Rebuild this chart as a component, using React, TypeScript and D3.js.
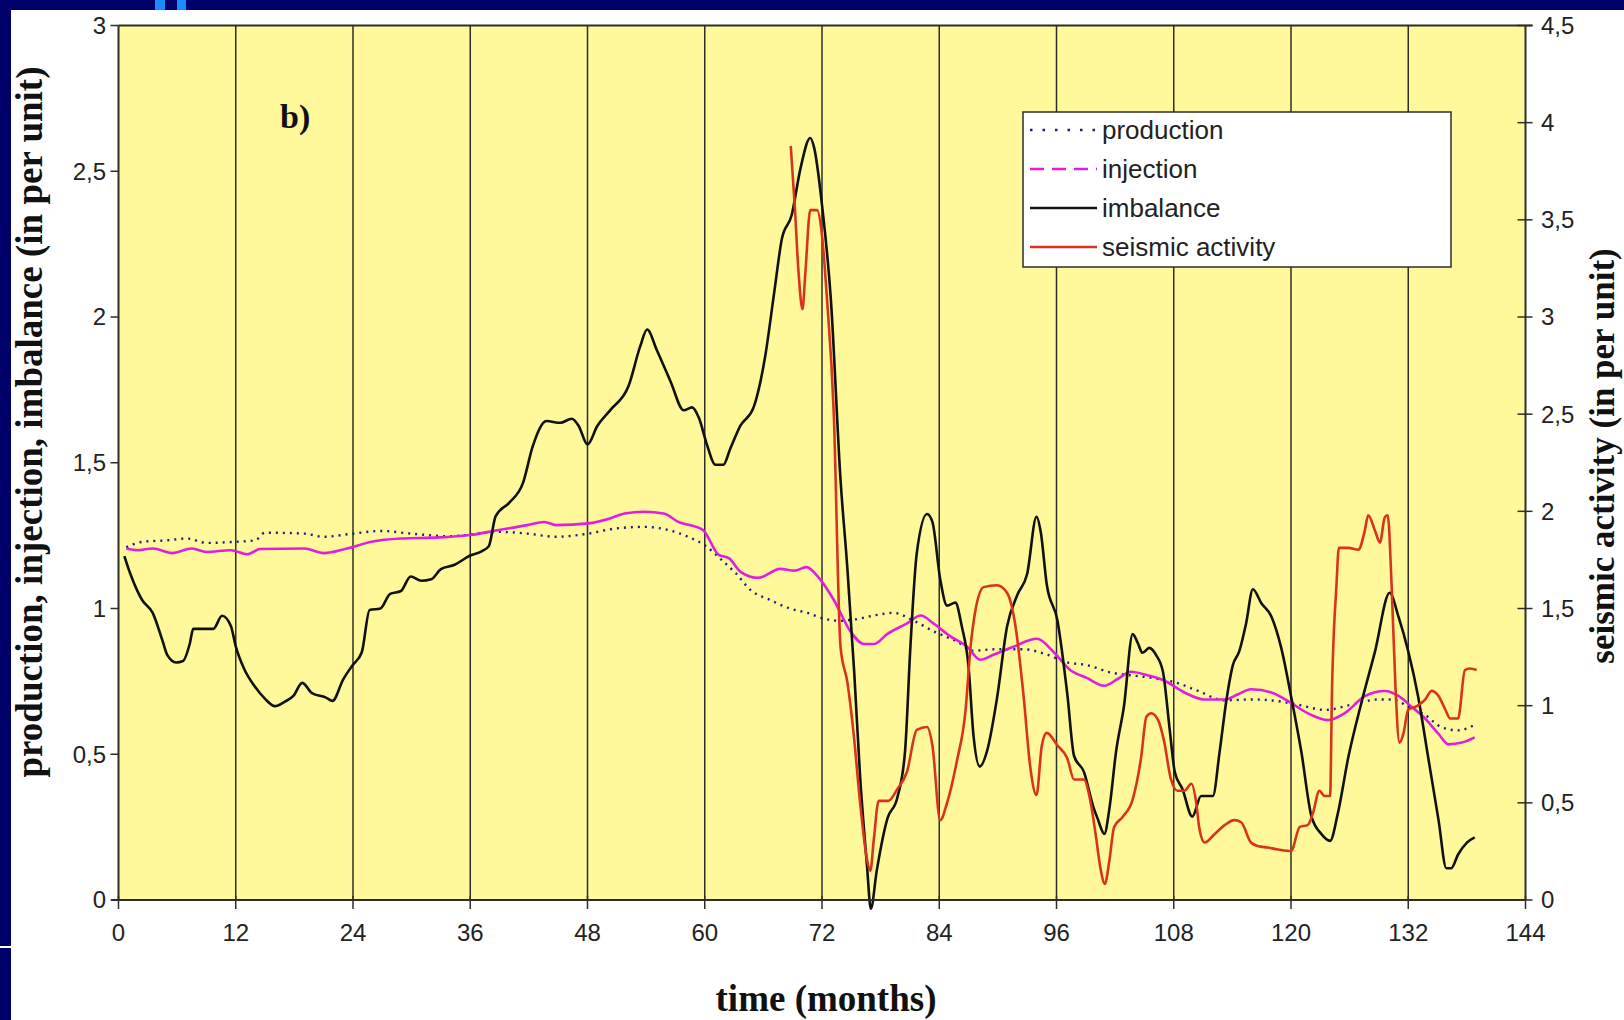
import React from "react";
import * as d3 from "d3";

// [month, value] samples for each series
const productionData: [number, number][] = [
  [0.8,1.21],[2.5,1.229],[5,1.234],[7,1.24],[9,1.225],[12,1.229],[14,1.234],[15,1.26],[19,1.257],[21,1.246],[24,1.257],[26.9,1.266],[29.9,1.257],[33.9,1.248],[38.9,1.263],[41.85,1.257],[44.8,1.246],[48.1,1.257],[50.8,1.274],[53.8,1.28],[56.3,1.269],[58.3,1.246],[60,1.217],[61.75,1.166],[63.2,1.12],[64.7,1.063],[66.7,1.029],[68.7,1.0],[70.7,0.983],[72.2,0.965],[73.9,0.958],[75.25,0.962],[77.3,0.976],[79.3,0.985],[81.4,0.958],[83.4,0.922],[85.8,0.887],[87.5,0.855],[89.6,0.86],[92.65,0.86],[95,0.842],[97.1,0.815],[99.1,0.806],[101.6,0.78],[103.6,0.771],[106.4,0.759],[108.1,0.747],[110.5,0.717],[113.2,0.685],[115.9,0.688],[118.7,0.682],[120.7,0.67],[123.5,0.652],[126.2,0.67],[128.9,0.688],[130.3,0.688],[132,0.664],[133.7,0.635],[135.4,0.593],[137.1,0.582],[139,0.605]
];

const injectionData: [number, number][] = [
  [0.8,1.206],[2,1.2],[3.5,1.206],[5.5,1.19],[7.5,1.206],[9,1.194],[11.5,1.2],[13.2,1.186],[14.5,1.204],[19,1.206],[21,1.19],[23.4,1.206],[25.9,1.229],[28.9,1.24],[32.9,1.244],[36,1.252],[38.9,1.269],[41.85,1.286],[43.6,1.297],[44.8,1.286],[48.1,1.292],[50.3,1.309],[51.8,1.326],[53.8,1.332],[55.8,1.326],[57.3,1.297],[59.8,1.27],[61.4,1.185],[62.5,1.172],[63.7,1.125],[65.5,1.105],[67.7,1.136],[69.2,1.13],[70.4,1.142],[71.8,1.1],[73.2,1.03],[74.9,0.922],[76.3,0.878],[77.3,0.878],[78.7,0.913],[80.7,0.949],[82.1,0.976],[83.4,0.949],[85.1,0.905],[86.85,0.869],[88.2,0.824],[89.6,0.842],[91.6,0.869],[94,0.896],[95.7,0.851],[97.4,0.789],[99.1,0.762],[100.9,0.735],[102.3,0.759],[103.6,0.783],[105.3,0.771],[107,0.753],[109.1,0.712],[111.1,0.688],[113.2,0.688],[114.6,0.706],[115.9,0.723],[118,0.712],[120,0.676],[121.7,0.641],[123.8,0.617],[125.5,0.641],[127.6,0.7],[129.6,0.717],[131,0.7],[132.3,0.664],[133.7,0.623],[135.1,0.57],[136.1,0.534],[137.5,0.54],[138.8,0.558]
];

const imbalanceData: [number, number][] = [
  [0.6,1.18],[1.2,1.12],[2.4,1.03],[3.5,0.985],[4.5,0.89],[5,0.84],[5.9,0.815],[6.6,0.82],[7.3,0.88],[7.65,0.93],[8.3,0.93],[9.7,0.93],[10.6,0.975],[11.5,0.94],[12,0.87],[12.9,0.79],[13.9,0.735],[15,0.69],[16,0.665],[17,0.68],[17.9,0.7],[18.8,0.745],[19.8,0.71],[21.2,0.695],[21.9,0.683],[23,0.757],[23.9,0.803],[24.9,0.85],[25.7,0.995],[26.8,1.0],[27.8,1.05],[28.9,1.06],[29.9,1.11],[31,1.095],[32,1.1],[33,1.135],[34.4,1.15],[35.9,1.18],[37.2,1.197],[37.9,1.214],[38.6,1.317],[40,1.363],[41.4,1.431],[42.4,1.557],[43.8,1.643],[45.2,1.637],[46.4,1.651],[47.1,1.626],[48,1.563],[49,1.626],[50.4,1.683],[52.2,1.763],[53.4,1.9],[54.1,1.957],[55.1,1.886],[56.5,1.779],[57.85,1.68],[58.7,1.69],[59.4,1.654],[60.2,1.565],[61.1,1.493],[61.9,1.493],[62.6,1.547],[63.65,1.627],[65,1.69],[66.2,1.868],[67.1,2.082],[67.9,2.269],[68.9,2.35],[69.8,2.51],[70.8,2.614],[71.2,2.58],[72,2.385],[72.9,2.064],[73.9,1.44],[74.6,1.136],[75.3,0.78],[75.9,0.423],[76.6,0.12],[77,-0.03],[77.6,0.1],[78.7,0.28],[79.7,0.35],[80.5,0.51],[81.05,0.87],[81.7,1.19],[82.75,1.324],[83.3,1.297],[84.1,1.1],[84.8,1.01],[85.65,1.02],[86.3,0.94],[87,0.8],[87.5,0.566],[88.15,0.458],[88.9,0.512],[89.9,0.69],[90.95,0.94],[92,1.047],[93,1.119],[93.95,1.315],[94.4,1.26],[95,1.083],[96.1,0.958],[97.1,0.708],[97.8,0.494],[98.8,0.44],[99.8,0.316],[100.2,0.28],[100.9,0.227],[101.4,0.31],[102.1,0.51],[102.9,0.664],[103.8,0.912],[104.3,0.883],[104.8,0.848],[105.5,0.865],[106.2,0.84],[106.9,0.782],[107.6,0.58],[108.1,0.44],[108.9,0.38],[109.9,0.286],[110.8,0.357],[112,0.357],[112.7,0.51],[113.4,0.688],[114.05,0.806],[114.7,0.853],[115.4,0.948],[116.1,1.066],[116.95,1.019],[118,0.972],[119,0.865],[120,0.7],[121.05,0.51],[122.1,0.286],[123.1,0.227],[124,0.203],[124.8,0.298],[125.85,0.487],[127.2,0.676],[128.6,0.853],[130.1,1.054],[131,0.972],[132,0.853],[133,0.7],[134.05,0.487],[135.1,0.274],[135.9,0.109],[136.4,0.109],[137.1,0.156],[138,0.197],[138.8,0.215]
];

// seismic activity, read on the right-hand axis
const seismicData: [number, number][] = [
  [68.8,3.88],[69.2,3.58],[69.6,3.23],[70,3.04],[70.3,3.23],[70.8,3.55],[71.5,3.55],[72,3.42],[72.5,3.1],[73.2,2.51],[73.9,1.3],[74.6,1.12],[75.25,0.85],[75.9,0.5],[76.6,0.21],[76.95,0.15],[77.3,0.31],[77.8,0.51],[78.8,0.51],[79.7,0.57],[80.7,0.66],[81.7,0.875],[82.75,0.89],[83.3,0.795],[84.1,0.41],[84.8,0.5],[85.8,0.714],[86.7,0.98],[87.2,1.3],[87.7,1.49],[88.55,1.61],[89.9,1.62],[90.95,1.58],[91.8,1.41],[92.65,1.04],[93.3,0.69],[93.95,0.54],[94.5,0.795],[95,0.86],[96.1,0.795],[97.1,0.73],[97.8,0.62],[98.8,0.62],[99.5,0.5],[100,0.34],[100.5,0.163],[100.95,0.083],[101.4,0.199],[101.9,0.376],[102.8,0.429],[103.8,0.518],[104.65,0.73],[105.2,0.943],[105.7,0.961],[106.4,0.926],[107,0.82],[107.7,0.624],[108.4,0.562],[109.1,0.562],[109.8,0.598],[110.3,0.5],[110.6,0.376],[111.15,0.296],[112.2,0.34],[113.2,0.385],[114.2,0.411],[114.9,0.4],[115.9,0.296],[116.6,0.278],[117.6,0.27],[118.7,0.26],[120,0.252],[120.9,0.376],[121.7,0.385],[122.25,0.447],[122.9,0.562],[123.45,0.535],[124,0.535],[124.2,1.085],[124.65,1.617],[124.9,1.812],[125.85,1.812],[126.9,1.803],[127.55,1.9],[127.9,1.98],[128.6,1.9],[129.1,1.839],[129.6,1.97],[129.9,1.98],[130.3,1.617],[130.7,1.085],[131.1,0.81],[131.5,0.855],[132,0.979],[132.85,0.996],[133.7,1.03],[134.4,1.076],[135.1,1.05],[135.8,0.979],[136.3,0.934],[137.1,0.934],[137.8,1.183],[138.3,1.191],[139,1.183]
];

const monthTicks = [0, 12, 24, 36, 48, 60, 72, 84, 96, 108, 120, 132, 144];
const leftTicks = [0, 0.5, 1, 1.5, 2, 2.5, 3];
const rightTicks = [0, 0.5, 1, 1.5, 2, 2.5, 3, 3.5, 4, 4.5];
const legendLabels = ["production", "injection", "imbalance", "seismic activity"];

const W = 1624;
const H = 1020;
const plot = { left: 118.5, right: 1525.5, top: 25.5, bottom: 900 };

const NAVY = "#00006a";
const AXIS = "#2e2e28";
const SANS = "'Liberation Sans', Arial, sans-serif";
const SERIF = "'Liberation Serif', 'Times New Roman', serif";

const fmt = (v: number) => String(v).replace(".", ",");

export default function App() {
  const x = d3.scaleLinear().domain([0, 144]).range([plot.left, plot.right]);
  const yL = d3.scaleLinear().domain([0, 3]).range([plot.bottom, plot.top]);
  const yR = d3.scaleLinear().domain([0, 4.5]).range([plot.bottom, plot.top]);

  const lineL = d3
    .line<[number, number]>()
    .x((d) => x(d[0]))
    .y((d) => yL(d[1]))
    .curve(d3.curveMonotoneX);
  const lineR = d3
    .line<[number, number]>()
    .x((d) => x(d[0]))
    .y((d) => yR(d[1]))
    .curve(d3.curveMonotoneX);

  const styles = [
    { stroke: "#1c1c86", width: 2.4, dash: "2,5", legendDash: "2.5,10" },
    { stroke: "#e01ee0", width: 2.6, dash: undefined, legendDash: "14,8" },
    { stroke: "#111111", width: 2.6, dash: undefined, legendDash: undefined },
    { stroke: "#d8331c", width: 2.6, dash: undefined, legendDash: undefined },
  ];

  const legend = { x: 1023, y: 112, w: 428, h: 155 };
  const rowY = [130, 169, 208, 247];

  return (
    <div style={{ position: "absolute", left: 0, top: 0 }}>
      <svg width={W} height={H} viewBox={`0 0 ${W} ${H}`} style={{ display: "block" }}>
        {/* slide frame */}
        <rect x={0} y={0} width={W} height={H} fill={NAVY} />
        <rect x={11} y={10} width={W - 11} height={H - 10} fill="#ffffff" />
        <rect x={155} y={0} width={10} height={10} fill="#1a8cff" />
        <rect x={177} y={0} width={9} height={10} fill="#1a8cff" />
        <rect x={0} y={946} width={11} height={2} fill="#ffffff" />

        {/* plot area */}
        <rect
          x={plot.left}
          y={plot.top}
          width={plot.right - plot.left}
          height={plot.bottom - plot.top}
          fill="#fff99b"
        />

        {/* vertical gridlines */}
        {monthTicks.slice(1, -1).map((m) => (
          <line
            key={`g${m}`}
            x1={x(m)}
            x2={x(m)}
            y1={plot.top}
            y2={plot.bottom}
            stroke={AXIS}
            strokeWidth={1.5}
          />
        ))}

        {/* series */}
        <path d={lineL(productionData) || ""} fill="none" stroke={styles[0].stroke} strokeWidth={styles[0].width} strokeDasharray={styles[0].dash} />
        <path d={lineL(injectionData) || ""} fill="none" stroke={styles[1].stroke} strokeWidth={styles[1].width} />
        <path d={lineL(imbalanceData) || ""} fill="none" stroke={styles[2].stroke} strokeWidth={styles[2].width} strokeLinejoin="round" />
        <path d={lineR(seismicData) || ""} fill="none" stroke={styles[3].stroke} strokeWidth={styles[3].width} strokeLinejoin="round" />

        {/* frame of the plot */}
        <line x1={plot.left} x2={plot.right + 7} y1={plot.top} y2={plot.top} stroke={AXIS} strokeWidth={2} />
        <line x1={plot.left} x2={plot.left} y1={plot.top} y2={plot.bottom} stroke={AXIS} strokeWidth={2} />
        <line x1={plot.right} x2={plot.right} y1={plot.top} y2={plot.bottom} stroke={AXIS} strokeWidth={2} />
        <line x1={plot.left - 7} x2={plot.right} y1={plot.bottom} y2={plot.bottom} stroke={AXIS} strokeWidth={2} />

        {/* bottom axis */}
        {monthTicks.map((m) => (
          <g key={`x${m}`}>
            <line x1={x(m)} x2={x(m)} y1={plot.bottom - 4} y2={plot.bottom + 9} stroke={AXIS} strokeWidth={1.5} />
            <text x={x(m)} y={941} textAnchor="middle" fontFamily={SANS} fontSize={24} fill="#222">
              {m}
            </text>
          </g>
        ))}

        {/* left axis */}
        {leftTicks.map((v) => (
          <g key={`l${v}`}>
            <line x1={plot.left - 8} x2={plot.left} y1={yL(v)} y2={yL(v)} stroke={AXIS} strokeWidth={1.5} />
            <text x={106} y={yL(v)} dy="0.35em" textAnchor="end" fontFamily={SANS} fontSize={24} fill="#222">
              {fmt(v)}
            </text>
          </g>
        ))}

        {/* right axis */}
        {rightTicks.map((v) => (
          <g key={`r${v}`}>
            <line x1={plot.right - 8} x2={plot.right + 7} y1={yR(v)} y2={yR(v)} stroke={AXIS} strokeWidth={1.5} />
            <text x={1541} y={yR(v)} dy="0.35em" textAnchor="start" fontFamily={SANS} fontSize={24} fill="#222">
              {fmt(v)}
            </text>
          </g>
        ))}

        {/* axis titles */}
        <text x={826} y={1011} textAnchor="middle" fontFamily={SERIF} fontWeight="bold" fontSize={37} fill="#111">
          time (months)
        </text>
        <text
          transform={`translate(42, 422) rotate(-90)`}
          textAnchor="middle"
          fontFamily={SERIF}
          fontWeight="bold"
          fontSize={37}
          fill="#111"
        >
          production, injection, imbalance (in per unit)
        </text>
        <text
          transform={`translate(1614, 456) rotate(-90)`}
          textAnchor="middle"
          fontFamily={SERIF}
          fontWeight="bold"
          fontSize={35}
          fill="#111"
        >
          seismic activity (in per unit)
        </text>

        {/* panel label */}
        <text x={280} y={128} fontFamily={SERIF} fontWeight="bold" fontSize={34} fill="#111">
          b)
        </text>

        {/* legend */}
        <rect x={legend.x} y={legend.y} width={legend.w} height={legend.h} fill="#ffffff" stroke={AXIS} strokeWidth={1.5} />
        {legendLabels.map((label, i) => (
          <g key={label}>
            <line
              x1={1030}
              x2={1097}
              y1={rowY[i]}
              y2={rowY[i]}
              stroke={styles[i].stroke}
              strokeWidth={2.6}
              strokeDasharray={styles[i].legendDash}
            />
            <text x={1102} y={rowY[i]} dy="0.35em" fontFamily={SANS} fontSize={26} fill="#222">
              {label}
            </text>
          </g>
        ))}
      </svg>
    </div>
  );
}
